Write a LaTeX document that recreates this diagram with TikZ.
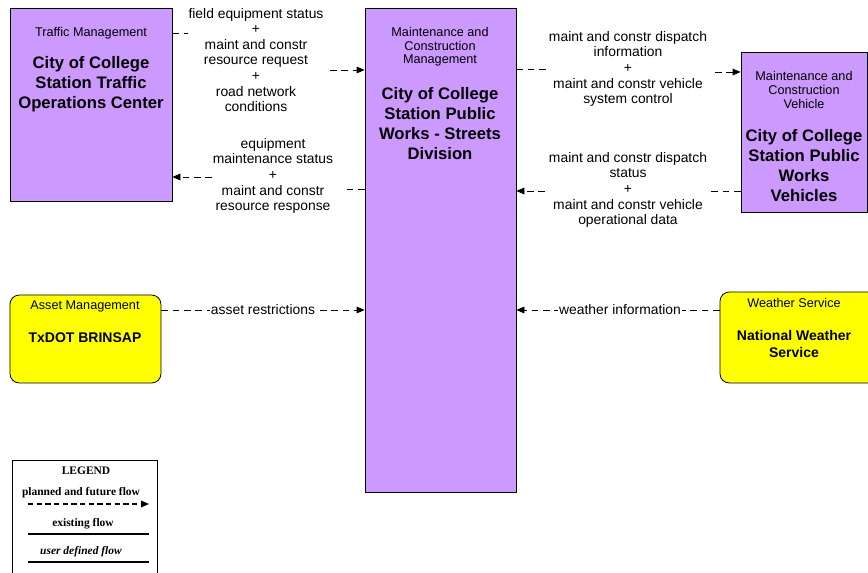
\documentclass[tikz,border=0pt]{standalone}
\usepackage{fontspec}
\setmainfont{Liberation Sans}
\newfontfamily\legendfont{Liberation Serif}
\usetikzlibrary{arrows.meta,fit}
\definecolor{boxpurple}{RGB}{204,153,255}
\definecolor{boxyellow}{RGB}{255,255,0}

\begin{document}
\begin{tikzpicture}[x=0.75pt, y=-0.75pt,
    purplebox/.style={draw=black, fill=boxpurple, inner sep=0pt, line width=0.6pt},
    yellowbox/.style={draw=black, fill=boxyellow, inner sep=0pt, rounded corners=7pt, line width=0.6pt},
    kind/.style={font=\fontsize{9.5}{10.2}\selectfont, align=center, inner sep=0pt},
    title/.style={font=\fontsize{12.5}{15}\selectfont\bfseries, align=center, inner sep=0pt},
    flow/.style={dash pattern=on 5pt off 3.5pt, line width=0.6pt},
    arrowend/.style={-{Triangle[length=6pt,width=5pt]}},
    flowlbl/.style={font=\fontsize{10.4}{11.7}\selectfont, align=center, inner sep=1pt},
    legendtxt/.style={font=\legendfont\fontsize{8.6}{9}\selectfont\bfseries}]
    \clip (0,0) rectangle (868,573);
    % boxes
    \node[purplebox, fit={(10,8) (172,201)}] (toc) {};
    \node[purplebox, fit={(365,8) (516,492)}] (mcm) {};
    \node[purplebox, fit={(741,52) (867,212)}] (mcv) {};
    \node[yellowbox, fit={(10,295) (161,383)}] (brinsap) {};
    \node[yellowbox, fit={(720,292) (880,383)}] (nws) {};
    % box texts
    \node[kind] at (91,33) {Traffic Management};
    \node[title] at (91,84) {City of College\\Station Traffic\\Operations Center};
    \node[kind] at (440,47) {Maintenance and\\Construction\\Management};
    \node[title] at (440,124) {City of College\\Station Public\\Works - Streets\\Division};
    \node[kind] at (804,90) {Maintenance and\\Construction\\Vehicle};
    \node[title] at (804,166) {City of College\\Station Public\\Works\\Vehicles};
    \node[kind] at (85,306) {Asset Management};
    \node[title, font=\fontsize{10.5}{12.8}\selectfont\bfseries] at (85,338) {TxDOT BRINSAP};
    \node[kind] at (794,303) {Weather Service};
    \node[title, font=\fontsize{10.5}{12.8}\selectfont\bfseries] at (794,344) {National Weather\\Service};
    % flow labels
    \node[flowlbl] (l1) at (256,60) {field equipment status\\+\\maint and constr\\resource request\\+\\road network\\conditions};
    \node[flowlbl] (l2) at (273,176) {equipment\\maintenance status\\+\\maint and constr\\resource response};
    \node[flowlbl] (l3) at (628,69) {maint and constr dispatch\\information\\+\\maint and constr vehicle\\system control};
    \node[flowlbl] (l4) at (628,190) {maint and constr dispatch\\status\\+\\maint and constr vehicle\\operational data};
    % flow stubs and arrows
    \coordinate (s1) at (188,33);  \coordinate (a1) at (330,70);
    \coordinate (s2) at (343,189); \coordinate (a2) at (212,177);
    \coordinate (s3) at (548,69);  \coordinate (a3) at (715,72);
    \coordinate (s4) at (710,191); \coordinate (a4) at (545,191);
    \draw[flow] (toc.east |- s1) -- (s1);
    \draw[flow, arrowend] (a1) -- (mcm.west |- a1);
    \draw[flow] (mcm.west |- s2) -- (s2);
    \draw[flow, arrowend] (a2) -- (toc.east |- a2);
    \draw[flow] (mcm.east |- s3) -- (s3);
    \draw[flow, arrowend] (a3) -- (mcv.west |- a3);
    \draw[flow] (mcv.west |- s4) -- (s4);
    \draw[flow, arrowend] (a4) -- (mcm.east |- a4);
    % single line flows
    \coordinate (y5) at (0,310);
    \draw[flow, arrowend] (brinsap.east |- y5) -- node[flowlbl, fill=white] (l5) {asset restrictions} (mcm.west |- y5);
    \draw[flow, arrowend] (nws.west |- y5) -- node[flowlbl, fill=white, pos=0.49] (l6) {weather information} (mcm.east |- y5);
    % legend
    \draw[line width=0.6pt] (12,460) rectangle (157,600);
    \node[legendtxt] (lg) at (86,471) {LEGEND};
    \node[legendtxt] (lg1) at (81,493) {planned and future flow};
    \draw[dash pattern=on 4pt off 2.5pt, line width=1pt, arrowend] (28,504) -- (149,504);
    \node[legendtxt] (lg2) at (83,524) {existing flow};
    \draw[line width=1pt] (28,534) -- (149,534);
    \node[legendtxt] (lg3) at (81,552) {\itshape user defined flow};
    \draw[line width=1pt] (28,562) -- (149,562);
\end{tikzpicture}
\end{document}
